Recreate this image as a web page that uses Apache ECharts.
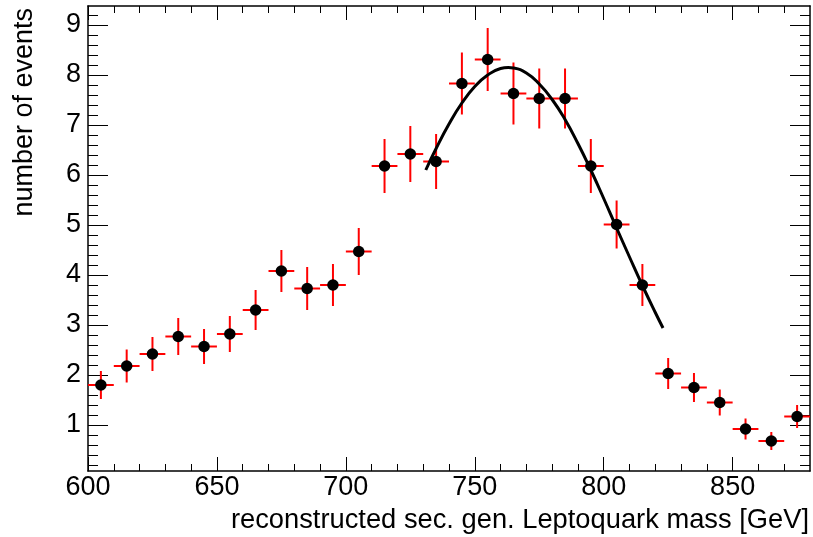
<!DOCTYPE html>
<html>
<head>
<meta charset="utf-8">
<script src="https://cdn.jsdelivr.net/npm/echarts@6/dist/echarts.min.js"></script>
<style>
html,body{margin:0;padding:0;background:#fff;}
#chart{width:813px;height:537px;}
</style>
</head>
<body>
<div id="chart"></div>
<script>
// Histogram bin centres (GeV)
const massBins = [605, 615, 625, 635, 645, 655, 665, 675, 685, 695,
                  705, 715, 725, 735, 745, 755, 765, 775, 785, 795,
                  805, 815, 825, 835, 845, 855, 865, 875];
// Number of events per bin
const events = [1.80, 2.18, 2.42, 2.77, 2.57, 2.82, 3.30, 4.08, 3.73, 3.80,
                4.47, 6.18, 6.42, 6.27, 7.83, 8.31, 7.63, 7.53, 7.53, 6.18,
                5.01, 3.80, 2.03, 1.75, 1.45, 0.92, 0.68, 1.17];
// Vertical error per bin
const errors = [0.28, 0.33, 0.34, 0.37, 0.35, 0.36, 0.40, 0.42, 0.43, 0.42,
                0.47, 0.54, 0.56, 0.55, 0.62, 0.63, 0.62, 0.60, 0.60, 0.54,
                0.48, 0.42, 0.31, 0.29, 0.26, 0.21, 0.18, 0.23];
const binHalfWidth = 5;
// Fit curve
const fitMass   = [731, 735, 740, 745, 750, 755, 760, 763, 765, 770, 775, 780,
                   785, 790, 795, 800, 805, 810, 815, 820, 823];
const fitValues = [6.10, 6.53, 7.02, 7.44, 7.77, 8.00, 8.13, 8.15, 8.14, 8.04, 7.82, 7.51,
                   7.11, 6.63, 6.10, 5.53, 4.94, 4.36, 3.79, 3.25, 2.94];
// Tick labels
const xTickLabels = [600, 650, 700, 750, 800, 850];
const yTickLabels = [1, 2, 3, 4, 5, 6, 7, 8, 9];
const xMinorTicks = [];
for (let v = 610; v < 880; v += 10) if (v % 50 !== 0) xMinorTicks.push(v);
const yMinorTicks = [];
for (let k = 1; k <= 46; k++) if (k % 5 !== 0) yMinorTicks.push(+(k * 0.2).toFixed(1));

const X_MIN = 600, X_MAX = 880, Y_MIN = 0.08, Y_MAX = 9.38;
const FONT = 'Liberation Sans';

const chart = echarts.init(document.getElementById('chart'), null, {renderer: 'canvas'});

function xAxisDef(pos, major, showLine, showLabel) {
  return {
    type: 'value', min: X_MIN, max: X_MAX, position: pos,
    axisLine: {show: showLine, lineStyle: {color: '#000', width: 1.5}},
    axisTick: {show: true, inside: true, length: major ? 14 : 7,
               customValues: major ? xTickLabels : xMinorTicks,
               lineStyle: {color: '#000', width: 1}},
    axisLabel: {show: showLabel, customValues: xTickLabels, margin: 3.5,
                fontSize: 27, color: '#000', fontFamily: FONT},
    splitLine: {show: false}
  };
}
function yAxisDef(pos, major, showLine, showLabel) {
  return {
    type: 'value', min: Y_MIN, max: Y_MAX, position: pos,
    axisLine: {show: showLine, lineStyle: {color: '#000', width: 1.5}},
    axisTick: {show: true, inside: true, length: major ? 20 : 10,
               customValues: major ? yTickLabels : yMinorTicks,
               lineStyle: {color: '#000', width: 1}},
    axisLabel: {show: showLabel, customValues: yTickLabels, margin: 7,
                fontSize: 27, color: '#000', fontFamily: FONT,
                padding: [8, 0, 0, 0]},
    splitLine: {show: false}
  };
}

const pointData = massBins.map((m, i) => [m, events[i], errors[i]]);
const fitData = fitMass.map((m, i) => [m, fitValues[i]]);

const option = {
  animation: false,
  backgroundColor: '#fff',
  grid: {left: 88, top: 6, width: 722, height: 465, containLabel: false},
  // ECharts flips a repeated position, so minor axes are declared with the opposite side
  xAxis: [
    xAxisDef('bottom', true, true, true),
    xAxisDef('top', true, true, false),
    xAxisDef('bottom', false, false, false),
    xAxisDef('top', false, false, false)
  ],
  yAxis: [
    yAxisDef('left', true, true, true),
    yAxisDef('right', true, true, false),
    yAxisDef('left', false, false, false),
    yAxisDef('right', false, false, false)
  ],
  graphic: [
    {type: 'text', x: 809, y: 520.5,
     style: {text: 'reconstructed sec. gen. Leptoquark mass [GeV]', fill: '#000',
             font: '27.3px "Liberation Sans"', textAlign: 'right', textVerticalAlign: 'middle'}},
    {type: 'text', x: 24.6, y: 8, rotation: Math.PI / 2,
     style: {text: 'number of events', fill: '#000',
             font: '27px "Liberation Sans"', textAlign: 'right', textVerticalAlign: 'middle'}}
  ],
  series: [
    {
      type: 'custom', xAxisIndex: 0, yAxisIndex: 0, z: 3,
      data: pointData,
      renderItem: function (params, api) {
        const x = api.value(0), y = api.value(1), e = api.value(2);
        const l = api.coord([x - binHalfWidth, y]);
        const r = api.coord([x + binHalfWidth, y]);
        const t = api.coord([x, y + e]);
        const b = api.coord([x, y - e]);
        const st = {stroke: '#ff0000', lineWidth: 2, lineCap: 'butt'};
        return {type: 'group', children: [
          {type: 'line', shape: {x1: l[0], y1: l[1], x2: r[0], y2: r[1]}, style: st},
          {type: 'line', shape: {x1: t[0], y1: t[1], x2: b[0], y2: b[1]}, style: st}
        ]};
      }
    },
    {
      type: 'line', xAxisIndex: 0, yAxisIndex: 0, z: 4,
      data: fitData, smooth: true, showSymbol: false, symbol: 'none',
      lineStyle: {color: '#000', width: 3}
    },
    {
      type: 'scatter', xAxisIndex: 0, yAxisIndex: 0, z: 5,
      data: pointData.map(p => [p[0], p[1]]),
      symbol: 'circle', symbolSize: 11.5,
      itemStyle: {color: '#000', opacity: 1}
    }
  ]
};
chart.setOption(option);
</script>
</body>
</html>
